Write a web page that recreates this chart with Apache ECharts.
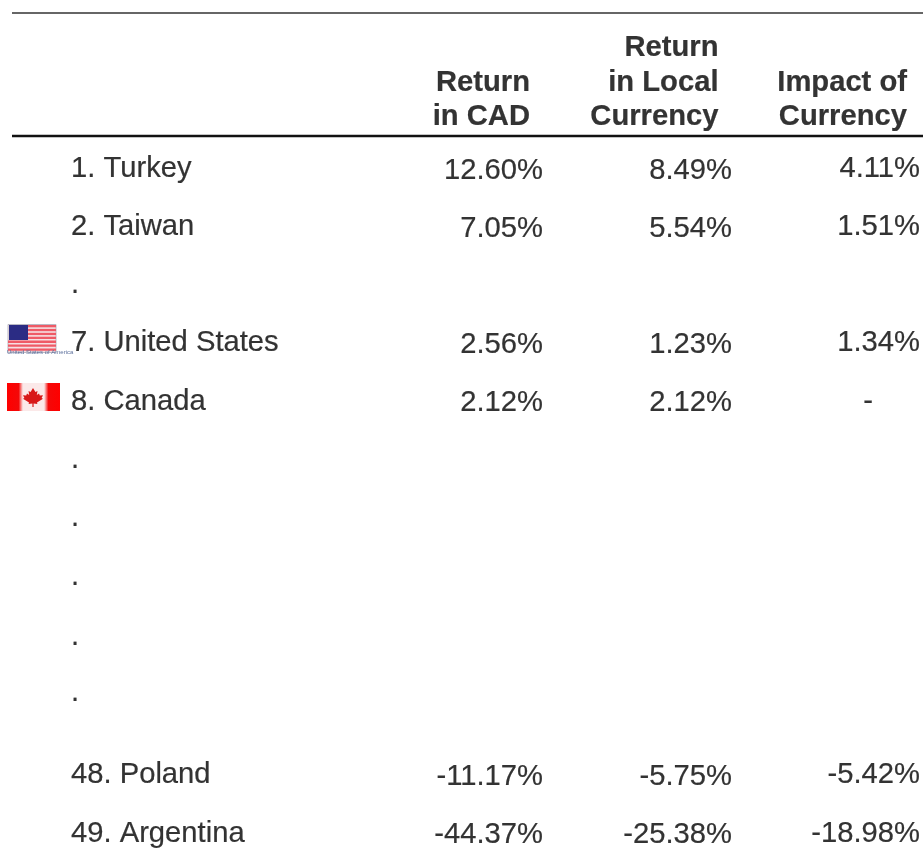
<!DOCTYPE html>
<html><head><meta charset="utf-8">
<style>html,body{margin:0;padding:0;background:#fff}#c{width:923px;height:848px}</style>
<script src="https://cdn.jsdelivr.net/npm/echarts@6/dist/echarts.min.js"></script>
</head><body><div id="c"></div>
<script>
var countries = ['1. Turkey','2. Taiwan','.','7. United States','8. Canada','.','.','.','.','.','48. Poland','49. Argentina'];
var returnCAD = ['12.60%','7.05%','','2.56%','2.12%','','','','','','-11.17%','-44.37%'];
var returnLocal = ['8.49%','5.54%','','1.23%','2.12%','','','','','','-5.75%','-25.38%'];
var impactCurrency = ['4.11%','1.51%','','1.34%','-','','','','','','-5.42%','-18.98%'];
var header1 = ['', 'Return', ''];
var header2 = ['Return', 'in Local', 'Impact of'];
var header3 = ['in CAD', 'Currency', 'Currency'];

var FS = 29.2, FONT = '"Liberation Sans"';
var rowY = [169,227,285,343,402,460,518,577,637,693,775,834];
var COL_X = [71, 543, 732, 920];
var HEAD_X = [530, 718.5, 907];
var HEAD_Y = [48, 83, 117];
var dataOffset = [2,2,0,2,1,0,0,0,0,0,2,1];

function textSeries(points, align, bold) {
  var labelStyle = {
    show: true, position: 'inside', align: align, verticalAlign: 'middle',
    color: '#000000', fontFamily: FONT, fontSize: FS, fontWeight: bold ? 'bold' : 'normal',
    textBorderColor: '#000000', textBorderWidth: 0.2
  };
  return {
    type: 'scatter', symbolSize: 1, itemStyle: { color: 'rgba(0,0,0,0)' }, silent: true, animation: false,
    data: points.filter(function (p) { return p[2] !== ''; }).map(function (p) {
      return { value: [p[0], p[1]], label: Object.assign({}, labelStyle, { formatter: function () { return p[2]; } }) };
    }),
    label: labelStyle
  };
}
function col(arr, x, offs) { return arr.map(function (t, i) { return [t === '-' ? 873 : x, rowY[i] + (offs ? offs[i] : 0), t]; }); }
function head(i, arr) { return arr.map(function (t, j) { return [HEAD_X[j], HEAD_Y[i], t]; }); }

var stripes = [];
for (var i = 0; i < 7; i++) {
  stripes.push({ type: 'rect', shape: { x: i < 4 ? 28 : 8, y: 325 + i * 3.9, width: i < 4 ? 28 : 48, height: 2.3 },
    style: { fill: '#ef5a66' } });
}
var leaf = [[33,388],[35.4,392],[37.5,391],[36.8,395],[39,393.6],[39.8,395.6],[43,395.2],[41.6,398],[43,398.8],[37,402.4],[37.4,404],[33.6,403.4],[33.6,407],[32.4,407],[32.4,403.4],[28.6,404],[29,402.4],[23,398.8],[24.4,398],[23,395.2],[26.2,395.6],[27,393.6],[29.2,395],[28.5,391],[30.6,392]];

var chart = echarts.init(document.getElementById('c'), null, { renderer: 'canvas' });
chart.setOption({
  animation: false, backgroundColor: '#fff',
  grid: { left: 0, right: 0, top: 0, bottom: 0 },
  xAxis: { type: 'value', min: 0, max: 923, show: false },
  yAxis: { type: 'value', min: 0, max: 848, inverse: true, show: false },
  series: [
    textSeries(col(countries, COL_X[0]), 'left', false),
    textSeries(col(returnCAD, COL_X[1], dataOffset), 'right', false),
    textSeries(col(returnLocal, COL_X[2], dataOffset), 'right', false),
    textSeries(col(impactCurrency, COL_X[3]), 'right', false),
    textSeries(head(0, header1), 'right', true),
    textSeries(head(1, header2), 'right', true),
    textSeries(head(2, header3), 'right', true)
  ],
  graphic: [
    { type: 'line', shape: { x1: 12, y1: 13, x2: 923, y2: 13 }, style: { stroke: '#333', lineWidth: 1.6 } },
    { type: 'line', shape: { x1: 12, y1: 136, x2: 923, y2: 136 }, style: { stroke: '#111', lineWidth: 2.6 } },
    { type: 'rect', shape: { x: 8, y: 324.5, width: 48, height: 28 }, style: { fill: '#f6dfe2', stroke: '#b9b9c4', lineWidth: 1 } }
  ].concat(stripes).concat([
    { type: 'rect', shape: { x: 9, y: 325, width: 19, height: 15 }, style: { fill: '#2b2c84' } },
    { type: 'text', style: { x: 7, y: 349, text: 'United States of America', fill: '#5b6f9c', font: '6px "Liberation Sans"' } },
    { type: 'rect', shape: { x: 7, y: 383, width: 53, height: 28 }, style: { fill: {
      type: 'linear', x: 0, y: 0, x2: 1, y2: 0, colorStops: [
        { offset: 0, color: '#ff0000' }, { offset: 0.22, color: '#f40808' }, { offset: 0.30, color: '#fbe9e9' },
        { offset: 0.70, color: '#fbe9e9' }, { offset: 0.78, color: '#f40808' }, { offset: 1, color: '#ff0000' }] } } },
    { type: 'polygon', shape: { points: leaf }, style: { fill: '#d81818' } }
  ])
});
</script></body></html>
